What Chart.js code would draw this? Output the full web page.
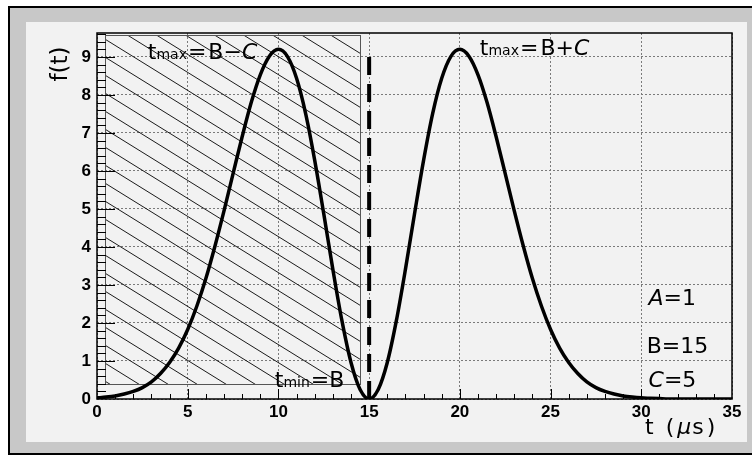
<!DOCTYPE html>
<html>
<head>
<meta charset="utf-8">
<script src="https://cdn.jsdelivr.net/npm/chart.js@4.4.1/dist/chart.umd.min.js"></script>
<style>
  html, body { margin: 0; padding: 0; background: #fff; width: 752px; height: 455px; overflow: hidden; }
  #marco { position: absolute; left: 8px; top: 6px; width: 760px; height: 449px; box-sizing: border-box; border: 2px solid #000; border-right: none; background: #c8c8c8; }
  #panel { position: absolute; left: 26px; top: 22px; width: 721px; height: 420px; background: #f2f2f2; }
  #grafico { position: absolute; left: 0; top: 0; }
</style>
</head>
<body>
<div id="marco"></div>
<div id="panel"></div>
<canvas id="grafico" width="752" height="455"></canvas>
<script>
// Datos: t (µs) y f(t)
const tiempos = [
  0, 0.5, 1, 1.5, 2, 2.5, 3, 3.5, 4, 4.5, 5, 5.5, 6, 6.5, 7, 7.5, 8, 8.5, 9, 9.5,
  10, 10.5, 11, 11.5, 12, 12.5, 13, 13.5, 14, 14.5, 15, 15.5, 16, 16.5, 17, 17.5, 18, 18.5, 19, 19.5,
  20, 20.5, 21, 21.5, 22, 22.5, 23, 23.5, 24, 24.5, 25, 25.5, 26, 26.5, 27, 27.5, 28, 28.5, 29, 29.5,
  30, 30.5, 31, 31.5, 32, 32.5, 33, 33.5, 34, 34.5, 35
];
const valores = [
  0.03, 0.05, 0.08, 0.13, 0.20, 0.30, 0.45, 0.67, 0.96, 1.34, 1.83, 2.44, 3.17, 4.02, 4.95, 5.93, 6.90, 7.80, 8.53, 9.02,
  9.20, 9.01, 8.44, 7.51, 6.28, 4.87, 3.41, 2.06, 0.96, 0.25, 0, 0.25, 0.96, 2.06, 3.41, 4.87, 6.28, 7.51, 8.44, 9.01,
  9.20, 9.02, 8.53, 7.80, 6.90, 5.93, 4.95, 4.02, 3.17, 2.44, 1.83, 1.34, 0.96, 0.67, 0.45, 0.30, 0.20, 0.13, 0.08, 0.05,
  0.03, 0.02, 0.01, 0, 0, 0, 0, 0, 0, 0, 0
];

// Línea discontinua en t = B
const lineaX = [15, 15];
const lineaY = [0, 9.05];

// Región sombreada (t, f)
const cajaX = [0.45, 14.5];
const cajaY = [0.38, 9.57];

// Rango de los ejes
const rangoX = [0, 35];
const rangoY = [0, 9.63];

const fuenteTexto = '"DejaVu Sans", sans-serif';

/**
 * Escribe un texto formado por partes con distinto tamaño y desplazamiento
 */
function escribir(ctx, partes, x, y) {
  let cx = x;
  partes.forEach(([texto, fuente, dy, dx]) => {
    ctx.font = fuente;
    ctx.fillText(texto, cx + (dx || 0), y + (dy || 0));
    cx += ctx.measureText(texto).width + (dx || 0);
  });
}

// Sombreado de la región t < B
const pluginCaja = {
  id: 'caja',
  beforeDatasetsDraw(chart) {
    const { ctx, scales: { x, y } } = chart;
    const x0 = x.getPixelForValue(cajaX[0]);
    const x1 = x.getPixelForValue(cajaX[1]);
    const y0 = y.getPixelForValue(cajaY[1]);
    const y1 = y.getPixelForValue(cajaY[0]);
    const pendiente = 0.62;
    const paso = 18;
    const ancho = x1 - x0;

    ctx.save();
    ctx.beginPath();
    ctx.rect(x0, y0, ancho, y1 - y0);
    ctx.clip();
    ctx.strokeStyle = '#1a1a1a';
    ctx.lineWidth = 1;
    ctx.beginPath();
    for (let c = y0 - pendiente * ancho; c < y1 + paso; c += paso) {
      ctx.moveTo(x0, c);
      ctx.lineTo(x1, c + pendiente * ancho);
    }
    ctx.stroke();
    ctx.restore();

    ctx.save();
    ctx.strokeStyle = '#555';
    ctx.lineWidth = 1;
    ctx.strokeRect(Math.round(x0) + 0.5, Math.round(y0) + 0.5, Math.round(ancho), Math.round(y1 - y0));
    ctx.restore();
  }
};

// Marco y marcas interiores de los ejes
const pluginMarco = {
  id: 'marco',
  afterDatasetsDraw(chart) {
    const { ctx, chartArea: a, scales: { x, y } } = chart;
    ctx.save();
    ctx.strokeStyle = '#000';
    ctx.lineWidth = 1;
    ctx.beginPath();
    for (let i = 1; i < 35; i++) {
      const px = Math.round(x.getPixelForValue(i)) + 0.5;
      const largo = i % 5 === 0 ? 10 : 5;
      ctx.moveTo(px, a.bottom);
      ctx.lineTo(px, a.bottom - largo);
    }
    for (let i = 1; i <= 48; i++) {
      const py = Math.round(y.getPixelForValue(i * 0.2)) + 0.5;
      const largo = i % 5 === 0 ? 18 : 9;
      ctx.moveTo(a.left, py);
      ctx.lineTo(a.left + largo, py);
    }
    ctx.stroke();
    ctx.lineWidth = 1.5;
    ctx.strokeRect(a.left, a.top, a.right - a.left, a.bottom - a.top);
    ctx.restore();
  }
};

// Rótulos del gráfico
const pluginTextos = {
  id: 'textos',
  afterDraw(chart) {
    const { ctx, scales: { x, y } } = chart;
    const grande = '22px ' + fuenteTexto;
    const grandeIt = 'italic 22px ' + fuenteTexto;
    const chico = '14px ' + fuenteTexto;
    ctx.save();
    ctx.fillStyle = '#000';
    ctx.textBaseline = 'alphabetic';
    ctx.textAlign = 'left';

    escribir(ctx, [['t', grande], ['max', chico, 0], ['=', grande, 0, 1], ['B', grande, 0, 2], ['\u2212', grande], ['C', grandeIt]],
      x.getPixelForValue(2.8), y.getPixelForValue(8.95));
    escribir(ctx, [['t', grande], ['max', chico, 0], ['=', grande, 0, 1], ['B', grande, 0, 2], ['+', grande], ['C', grandeIt]],
      x.getPixelForValue(21.1), y.getPixelForValue(9.05));
    escribir(ctx, [['t', grande], ['min', chico, 0], ['=', grande, 0, 1], ['B', grande]],
      x.getPixelForValue(9.8), y.getPixelForValue(0.32));

    escribir(ctx, [['A', grandeIt], ['=1', grande]], x.getPixelForValue(30.4), y.getPixelForValue(2.47));
    escribir(ctx, [['B=15', grande]], x.getPixelForValue(30.3), y.getPixelForValue(1.21));
    escribir(ctx, [['C', grandeIt], ['=5', grande]], x.getPixelForValue(30.4), y.getPixelForValue(0.32));

    // Título del eje x
    escribir(ctx, [['t', grande], ['(', grande, 0, 12], ['\u03bc', grandeIt, 0, 3], ['s', grande, 0, 1], [')', grande, 0, 3]], 645, 434);

    // Título del eje y
    ctx.translate(67, 64);
    ctx.rotate(-Math.PI / 2);
    ctx.textAlign = 'center';
    ctx.font = '23px ' + fuenteTexto;
    ctx.fillText('f(t)', 0, 0);
    ctx.restore();
  }
};

const fuenteEjes = { family: '"Liberation Sans", Arial, sans-serif', size: 17, weight: 'bold' };

new Chart(document.getElementById('grafico'), {
  type: 'line',
  data: {
    datasets: [
      {
        data: tiempos.map((t, i) => ({ x: t, y: valores[i] })),
        borderColor: '#000',
        borderWidth: 3.5,
        pointRadius: 0,
        cubicInterpolationMode: 'monotone',
        fill: false
      },
      {
        data: lineaX.map((t, i) => ({ x: t, y: lineaY[i] })),
        borderColor: '#000',
        borderWidth: 4,
        borderDash: [18, 9],
        pointRadius: 0,
        fill: false
      }
    ]
  },
  options: {
    responsive: false,
    animation: false,
    events: [],
    layout: { padding: { left: 0, top: 33, right: 20, bottom: 0 } },
    plugins: {
      legend: { display: false },
      tooltip: { enabled: false }
    },
    scales: {
      x: {
        type: 'linear',
        min: rangoX[0],
        max: rangoX[1],
        afterFit: (s) => { s.height = 56; },
        ticks: { stepSize: 5, color: '#000', font: fuenteEjes, padding: 3, maxRotation: 0 },
        grid: { color: '#7a7a7a', lineWidth: 1, drawTicks: false },
        border: { display: false, dash: [2, 2] }
      },
      y: {
        type: 'linear',
        min: rangoY[0],
        max: rangoY[1],
        afterFit: (s) => { s.width = 97; },
        afterBuildTicks: (s) => { s.ticks = s.ticks.filter(t => Number.isInteger(t.value)); },
        ticks: { stepSize: 1, includeBounds: false, color: '#000', font: fuenteEjes, padding: 6 },
        grid: { color: '#7a7a7a', lineWidth: 1, drawTicks: false },
        border: { display: false, dash: [2, 2] }
      }
    }
  },
  plugins: [pluginCaja, pluginMarco, pluginTextos]
});
</script>
</body>
</html>
